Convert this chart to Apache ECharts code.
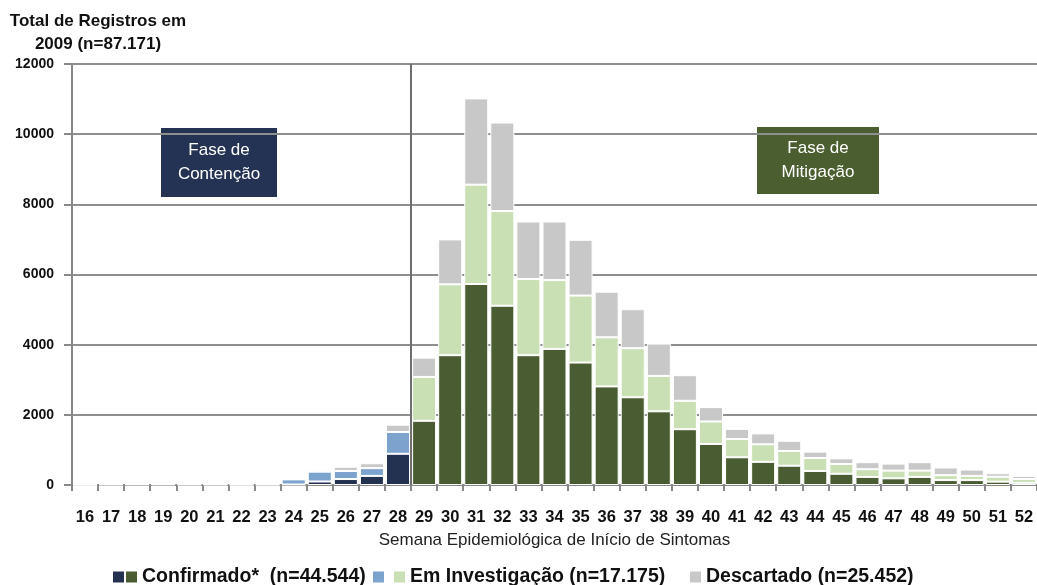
<!DOCTYPE html>
<html>
<head>
<meta charset="utf-8">
<title>Total de Registros em 2009</title>
<script src="https://cdn.jsdelivr.net/npm/echarts@6/dist/echarts.min.js"></script>
<style>
  html, body { margin: 0; padding: 0; background: #ffffff; }
  #chart { width: 1037px; height: 585px; }
</style>
</head>
<body>
<div id="chart"></div>
<script>
// Semanas epidemiológicas (eixo X)
const weeks = ['16','17','18','19','20','21','22','23','24','25','26','27','28',
  '29','30','31','32','33','34','35','36','37','38','39','40',
  '41','42','43','44','45','46','47','48','49','50','51','52'];

// Casos por semana de início de sintomas
const confirmed = [0, 10, 15, 15, 10, 10, 5, 5, 15, 100, 170, 260, 890,
  1830, 3700, 5730, 5110, 3700, 3880, 3490, 2810, 2500, 2100, 1590, 1170,
  790, 660, 550, 400, 320, 230, 190, 230, 140, 140, 95, 60];
const investigation = [15, 5, 5, 5, 5, 5, 10, 20, 145, 280, 230, 220, 620,
  1250, 2020, 2830, 2700, 2170, 1960, 1910, 1400, 1400, 1010, 810, 640,
  520, 500, 420, 370, 280, 220, 220, 180, 140, 120, 140, 110];
const discarded = [0, 10, 15, 15, 10, 10, 10, 15, 15, 50, 120, 140, 210,
  550, 1280, 2460, 2520, 1640, 1670, 1590, 1300, 1110, 920, 730, 410,
  290, 310, 290, 180, 160, 200, 200, 240, 220, 180, 100, 90];

// Última semana da fase de contenção
const lastContainmentWeek = 28;

// Eixo Y
const yTicks = [0, 2000, 4000, 6000, 8000, 10000, 12000];

// Textos
const titleText = 'Total de Registros em\n2009 (n=87.171)';
const xAxisTitle = 'Semana Epidemiológica de Início de Sintomas';
const legendConfirmed = 'Confirmado*  (n=44.544)';
const legendInvestigation = 'Em Investigação (n=17.175)';
const legendDiscarded = 'Descartado (n=25.452)';
const phaseContainment = 'Fase de\nContenção';
const phaseMitigation = 'Fase de\nMitigação';

// Separa uma série pela fase (contenção x mitigação)
const inContainment = i => Number(weeks[i]) <= lastContainmentWeek;
const byPhase = (values, containment) =>
  values.map((v, i) => (inContainment(i) === containment ? v : '-'));

const sansBold = { fontFamily: '"Liberation Sans", Arial, sans-serif', fontWeight: 'bold' };

const colors = {
  confContain: '#243252',
  confMitig: '#4a5c31',
  invContain: '#7ba3cd',
  invMitig: '#c9dfb4',
  discarded: '#c8c8c8',
  grid: '#8f8f8f',
  axis: '#888888'
};

// Ícone da legenda: quadrado 11x11 um pouco abaixo do centro da caixa 11x20,
// para alinhar com a linha de base do texto
const legendIcon = 'path://M0,0L11,0L11,0.01L0,0.01Z M0,5L11,5L11,16L0,16Z M0,19.99L11,19.99L11,20L0,20Z';

function barSeries(name, data, color) {
  return {
    name, type: 'bar', stack: 'total', data,
    barCategoryGap: '8%',
    itemStyle: { color, borderColor: '#ffffff', borderWidth: 1 },
    emphasis: { disabled: true }
  };
}

function legendBlock(name, left, text) {
  return {
    left, top: 566.5, padding: 0,
    itemWidth: 11, itemHeight: 20, icon: legendIcon,
    itemStyle: { borderWidth: 0 },
    selectedMode: false,
    data: [name],
    formatter: () => text,
    textStyle: Object.assign({ fontSize: 19.5, lineHeight: 20, color: '#111111' }, sansBold)
  };
}

function phaseBox(left, top, width, height, fill, text) {
  return {
    type: 'group', left, top, z: 10,
    children: [
      { type: 'rect', shape: { x: 0, y: 0, width, height }, style: { fill } },
      {
        type: 'text', x: width / 2, y: height / 2,
        style: {
          text, fill: '#ffffff', align: 'center', verticalAlign: 'middle',
          fontFamily: '"Liberation Sans", Arial, sans-serif', fontSize: 17, lineHeight: 24
        }
      }
    ]
  };
}

const chart = echarts.init(document.getElementById('chart'), null, { renderer: 'canvas' });

chart.setOption({
  animation: false,
  backgroundColor: '#ffffff',
  title: {
    text: titleText, left: 98, top: 10, padding: 0, textAlign: 'center',
    textStyle: Object.assign({ fontSize: 17, lineHeight: 23, color: '#111111' }, sansBold)
  },
  legend: [
    legendBlock('confContain', 113, ''),
    legendBlock('confMitig', 126, legendConfirmed),
    legendBlock('invContain', 373, ''),
    legendBlock('invMitig', 394, legendInvestigation),
    legendBlock('discarded', 690, legendDiscarded)
  ],
  grid: { left: 72, right: 0, top: 64, bottom: 100, outerBoundsMode: 'none' },
  xAxis: [
    {
      type: 'category', data: weeks,
      axisLine: { lineStyle: { color: colors.axis, width: 2 } },
      axisTick: { show: true, interval: 0, length: 6, lineStyle: { color: colors.axis, width: 2 } },
      axisLabel: Object.assign({ interval: 0, margin: 24, fontSize: 16.5, color: '#111111' }, sansBold),
      name: xAxisTitle, nameLocation: 'middle', nameGap: 47,
      nameTextStyle: { fontFamily: '"Liberation Sans", Arial, sans-serif', fontSize: 17, color: '#222222' }
    },
    {
      // eixo contínuo auxiliar para a linha de mudança de fase
      type: 'value', min: Number(weeks[0]) - 0.5, max: Number(weeks[weeks.length - 1]) + 0.5,
      show: false
    }
  ],
  yAxis: {
    type: 'value', min: yTicks[0], max: yTicks[yTicks.length - 1], interval: yTicks[1] - yTicks[0],
    axisLine: { show: true, lineStyle: { color: colors.axis, width: 2 } },
    axisTick: { show: true, length: 8, lineStyle: { color: colors.axis, width: 2 } },
    splitLine: { show: true, lineStyle: { color: colors.grid, width: 2 } },
    axisLabel: Object.assign({ margin: 18, fontSize: 14, color: '#111111', formatter: v => String(v) }, sansBold)
  },
  series: [
    barSeries('confContain', byPhase(confirmed, true), colors.confContain),
    barSeries('confMitig', byPhase(confirmed, false), colors.confMitig),
    barSeries('invContain', byPhase(investigation, true), colors.invContain),
    barSeries('invMitig', byPhase(investigation, false), colors.invMitig),
    barSeries('discarded', discarded, colors.discarded),
    {
      type: 'line', xAxisIndex: 1, data: [], silent: true,
      markLine: {
        silent: true, symbol: 'none', label: { show: false },
        lineStyle: { color: '#6e6e6e', width: 2, type: 'solid' },
        data: [{ xAxis: lastContainmentWeek + 0.5 }]
      }
    }
  ],
  graphic: [
    phaseBox(161, 128, 116, 69, '#243353', phaseContainment),
    phaseBox(757, 127, 122, 67, '#4a5e2f', phaseMitigation)
  ]
});
</script>
</body>
</html>
